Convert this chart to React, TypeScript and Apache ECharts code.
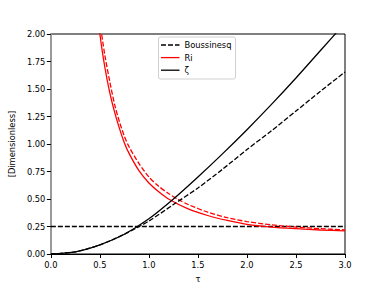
import React, { useEffect, useRef } from "react";
import * as echarts from "echarts";

const zetaTau = [0, 0.25, 0.5, 0.75, 1.0, 1.25, 1.5, 1.75, 2.0, 2.25, 2.5, 2.75, 3.0];
const zetaVals = [0, 0.02, 0.083, 0.18, 0.32, 0.5, 0.7, 0.91, 1.13, 1.36, 1.6, 1.85, 2.1];
const zetaBousVals = [0, 0.02, 0.083, 0.18, 0.3, 0.45, 0.6, 0.77, 0.95, 1.12, 1.3, 1.48, 1.655];

const riTau = [0.45, 0.5, 0.55, 0.6, 0.65, 0.7, 0.75, 0.8, 0.9, 1.0, 1.1, 1.2, 1.4, 1.6, 1.8, 2.0, 2.25, 2.5, 2.75, 3.0];
const riVals = [2.42, 2.0, 1.7, 1.47, 1.29, 1.14, 1.01, 0.91, 0.755, 0.645, 0.565, 0.5, 0.41, 0.35, 0.305, 0.27, 0.245, 0.23, 0.218, 0.21];

const riBousTau = [0.45, 0.5, 0.55, 0.6, 0.65, 0.7, 0.75, 0.8, 0.9, 1.0, 1.1, 1.2, 1.3, 1.4, 1.6, 1.8, 2.0, 2.25, 2.5, 2.75, 3.0];
const riBousVals = [2.5, 2.11, 1.81, 1.57, 1.36, 1.2, 1.07, 0.97, 0.82, 0.7, 0.615, 0.55, 0.495, 0.45, 0.38, 0.33, 0.295, 0.265, 0.245, 0.23, 0.22];

const bousRiTau = [0, 3];
const bousRiVals = [0.25, 0.25];

const xTicks = [0, 0.5, 1.0, 1.5, 2.0, 2.5, 3.0];
const yTicks = [0, 0.25, 0.5, 0.75, 1.0, 1.25, 1.5, 1.75, 2.0];

const legendNames = ["Boussinesq", "Ri", "ζ"];
const legendColors = ["#000", "#ff0000", "#000"];
const legendDashed = [true, false, false];

const pairs = (xs: number[], ys: number[]) => xs.map((x, i) => [x, ys[i]]);

export default function App() {
  const ref = useRef<HTMLDivElement>(null);
  useEffect(() => {
    if (!ref.current) return;
    const chart = echarts.init(ref.current, null, { renderer: "svg" });
    const font = "DejaVu Sans";
    const dash = [5, 2];
    const lw = 1.3;

    const legendEls: any[] = [
      {
        type: "rect",
        shape: { x: 158.5, y: 37, width: 77, height: 42, r: 2 },
        style: { fill: "rgba(255,255,255,0.8)", stroke: "#d0d0d0", lineWidth: 1 },
        z: 100,
      },
    ];
    legendNames.forEach((name, i) => {
      const y = 45 + i * 12.6;
      legendEls.push({
        type: "line",
        shape: { x1: 161, y1: y, x2: 179.5, y2: y },
        style: {
          stroke: legendColors[i],
          lineWidth: lw,
          lineDash: legendDashed[i] ? dash : null,
        },
        z: 101,
      });
      legendEls.push({
        type: "text",
        x: 184.5,
        y: y,
        style: {
          text: name,
          fill: "#000",
          font: `8.3px "${font}"`,
          verticalAlign: "middle",
          align: "left",
        },
        z: 101,
      });
    });

    chart.setOption({
      animation: false,
      textStyle: { fontFamily: font },
      grid: {
        left: 48,
        right: 39,
        top: 34,
        bottom: 32,
        show: true,
        borderColor: "#000",
        borderWidth: 1,
      },
      graphic: legendEls,
      xAxis: {
        type: "value",
        min: 0,
        max: 3,
        interval: 0.5,
        name: "τ",
        nameLocation: "middle",
        nameGap: 21,
        nameTextStyle: { fontFamily: font, fontSize: 8.3, color: "#000" },
        axisLine: { show: true, onZero: false, lineStyle: { color: "#000", width: 1 } },
        axisTick: { show: true, length: 4, lineStyle: { color: "#000" } },
        axisLabel: {
          fontFamily: font,
          fontSize: 8.3,
          color: "#000",
          margin: 6.5,
          formatter: (v: number) => (xTicks.includes(v) ? v.toFixed(1) : ""),
        },
        splitLine: { show: false },
      },
      yAxis: {
        type: "value",
        min: 0,
        max: 2,
        interval: 0.25,
        name: "[Dimensionless]",
        nameLocation: "middle",
        nameGap: 32,
        nameTextStyle: { fontFamily: font, fontSize: 8.3, color: "#000" },
        axisLine: { show: true, onZero: false, lineStyle: { color: "#999", width: 2 } },
        axisTick: { show: true, length: 4, lineStyle: { color: "#000" } },
        axisLabel: {
          fontFamily: font,
          fontSize: 8.3,
          color: "#000",
          margin: 5.5,
          formatter: (v: number) => (yTicks.includes(v) ? v.toFixed(2) : ""),
        },
        splitLine: { show: false },
      },
      series: [
        {
          name: "Boussinesq",
          type: "line",
          data: pairs(bousRiTau, bousRiVals),
          showSymbol: false,
          symbol: "none",
          lineStyle: { color: "#000", width: lw, type: dash },
        },
        {
          name: "Ri",
          type: "line",
          data: pairs(riTau, riVals),
          smooth: 0.25,
          showSymbol: false,
          symbol: "none",
          lineStyle: { color: "#ff0000", width: lw },
        },
        {
          name: "Ri (Boussinesq)",
          type: "line",
          data: pairs(riBousTau, riBousVals),
          smooth: 0.25,
          showSymbol: false,
          symbol: "none",
          lineStyle: { color: "#ff0000", width: lw, type: dash },
        },
        {
          name: "ζ",
          type: "line",
          data: pairs(zetaTau, zetaVals),
          smooth: 0.25,
          showSymbol: false,
          symbol: "none",
          lineStyle: { color: "#000", width: lw },
        },
        {
          name: "ζ (Boussinesq)",
          type: "line",
          data: pairs(zetaTau, zetaBousVals),
          smooth: 0.25,
          showSymbol: false,
          symbol: "none",
          lineStyle: { color: "#000", width: lw, type: dash },
        },
      ],
    });
    return () => chart.dispose();
  }, []);
  return <div ref={ref} style={{ width: 384, height: 288, position: "absolute", left: 0, top: 0 }} />;
}
